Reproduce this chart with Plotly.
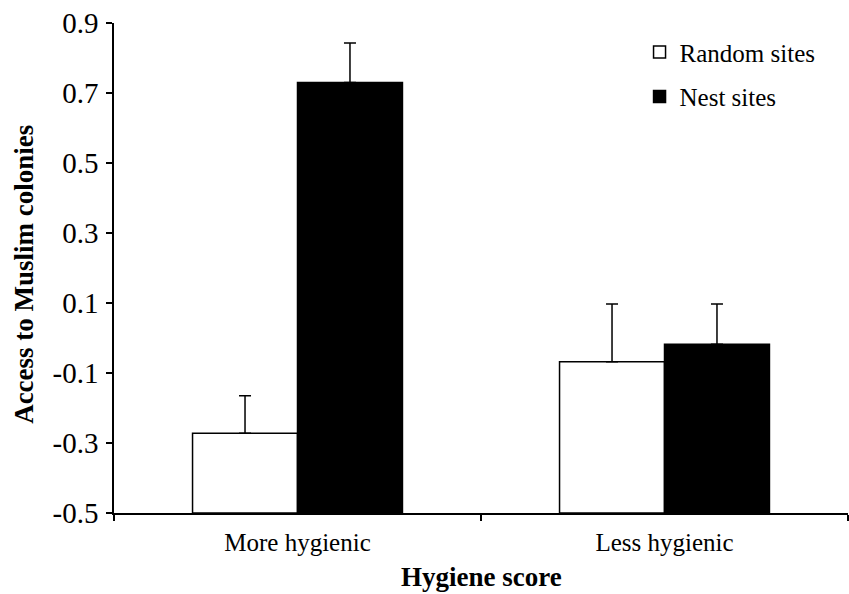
import plotly.graph_objects as go

# Mean access scores and the upper end of each standard-error bar
categories = ["More hygienic", "Less hygienic"]
random_means = [-0.272, -0.068]
random_upper = [-0.165, 0.097]
nest_means = [0.730, -0.018]
nest_upper = [0.843, 0.097]

y_ticks = [-0.5, -0.3, -0.1, 0.1, 0.3, 0.5, 0.7, 0.9]
y_tick_text = ["-0.5", "-0.3", "-0.1", "0.1", "0.3", "0.5", "0.7", "0.9"]

BASE = -0.5  # bars rise from the bottom of the axis
SERIF = "Liberation Serif"


def bar_trace(name, means, upper, fill):
    return go.Bar(
        name=name,
        x=categories,
        y=[m - BASE for m in means],
        base=[BASE] * len(means),
        marker=dict(color=fill, line=dict(color="black", width=1.5)),
        error_y=dict(
            type="data",
            symmetric=False,
            array=[u - m for u, m in zip(upper, means)],
            arrayminus=[0] * len(means),
            color="black",
            thickness=1.5,
            width=6,
        ),
        legendgroup=name,
    )


fig = go.Figure()
fig.add_trace(bar_trace("Random sites", random_means, random_upper, "white"))
fig.add_trace(bar_trace("Nest sites", nest_means, nest_upper, "black"))

fig.update_layout(
    width=849,
    height=594,
    margin=dict(l=114, r=1, t=23, b=81),
    paper_bgcolor="white",
    plot_bgcolor="white",
    barmode="group",
    bargap=0.428,
    bargroupgap=0,
    font=dict(family=SERIF, color="black", size=24),
    showlegend=True,
    legend=dict(
        x=0.716,
        y=0.987,
        xanchor="left",
        yanchor="top",
        font=dict(family=SERIF, size=25, color="black"),
        bgcolor="rgba(0,0,0,0)",
        tracegroupgap=9,
        itemwidth=30,
    ),
    xaxis=dict(
        type="category",
        showline=True,
        linecolor="black",
        linewidth=1.5,
        ticks="outside",
        ticklen=6,
        tickwidth=1.5,
        tickcolor="black",
        tickson="boundaries",
        tickfont=dict(family=SERIF, size=25, color="black"),
        ticklabelstandoff=6,
        showgrid=False,
        zeroline=False,
    ),
    yaxis=dict(
        range=[-0.5, 0.9],
        tickmode="array",
        tickvals=y_ticks,
        ticktext=y_tick_text,
        showline=True,
        linecolor="black",
        linewidth=1.5,
        ticks="outside",
        ticklen=6,
        tickwidth=1.5,
        tickcolor="black",
        tickfont=dict(family=SERIF, size=29, color="black"),
        ticklabelstandoff=2,
        automargin=False,
        showgrid=False,
        zeroline=False,
    ),
    annotations=[
        dict(
            text="<b>Access to Muslim colonies</b>",
            xref="paper", yref="paper",
            x=-0.1226, y=0.486,
            xanchor="center", yanchor="middle",
            textangle=-90,
            showarrow=False,
            font=dict(family=SERIF, size=27, color="black"),
        ),
        dict(
            text="<b>Hygiene score</b>",
            xref="paper", yref="paper",
            x=0.5, y=-0.131,
            xanchor="center", yanchor="middle",
            showarrow=False,
            font=dict(family=SERIF, size=27, color="black"),
        ),
    ],
)

fig.write_html("out.html")
